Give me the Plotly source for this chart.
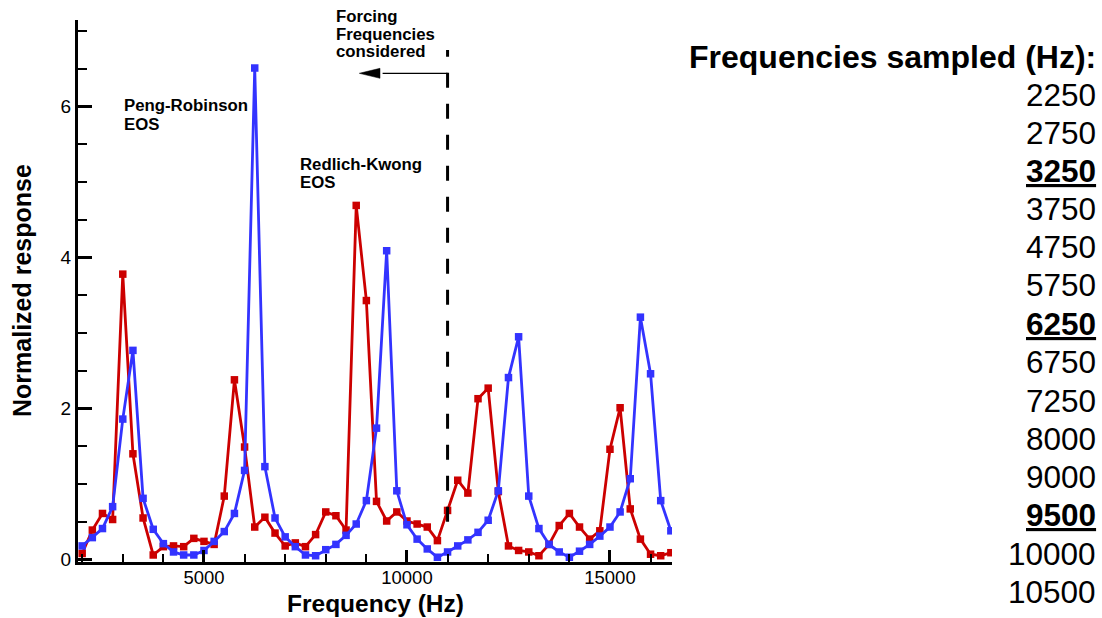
import plotly.graph_objects as go

# ---------------- data ----------------
FREQ_HZ = [2000, 2250, 2500, 2750, 3000, 3250, 3500, 3750, 4000, 4250,
           4500, 4750, 5000, 5250, 5500, 5750, 6000, 6250, 6500, 6750,
           7000, 7250, 7500, 7750, 8000, 8250, 8500, 8750, 9000, 9250,
           9500, 9750, 10000, 10250, 10500, 10750, 11000, 11250, 11500, 11750,
           12000, 12250, 12500, 12750, 13000, 13250, 13500, 13750, 14000, 14250,
           14500, 14750, 15000, 15250, 15500, 15750, 16000, 16250, 16500]

REDLICH_KWONG = [0.08, 0.39, 0.61, 0.53, 3.78, 1.40, 0.55, 0.06, 0.17, 0.18,
                 0.17, 0.28, 0.24, 0.20, 0.84, 2.38, 1.49, 0.43, 0.56, 0.35,
                 0.18, 0.22, 0.17, 0.33, 0.63, 0.58, 0.39, 4.69, 3.43, 0.77,
                 0.51, 0.63, 0.51, 0.47, 0.43, 0.25, 0.65, 1.05, 0.88, 2.13,
                 2.27, 0.90, 0.18, 0.12, 0.10, 0.05, 0.20, 0.45, 0.61, 0.43,
                 0.27, 0.38, 1.46, 2.01, 0.67, 0.27, 0.07, 0.05, 0.09]

PENG_ROBINSON = [0.18, 0.29, 0.41, 0.70, 1.86, 2.77, 0.81, 0.40, 0.21, 0.10,
                 0.06, 0.06, 0.12, 0.24, 0.37, 0.61, 1.18, 6.51, 1.23, 0.55,
                 0.30, 0.17, 0.06, 0.05, 0.13, 0.20, 0.32, 0.47, 0.78, 1.74,
                 4.09, 0.91, 0.46, 0.27, 0.14, 0.03, 0.10, 0.18, 0.26, 0.36,
                 0.52, 0.91, 2.41, 2.95, 0.84, 0.41, 0.20, 0.10, 0.03, 0.11,
                 0.20, 0.31, 0.43, 0.63, 1.07, 3.21, 2.46, 0.78, 0.38]

FORCING_CUTOFF_HZ = 11000

SAMPLED_HZ = ["2250", "2750", "3250", "3750", "4750", "5750", "6250",
              "6750", "7250", "8000", "9000", "9500", "10000", "10500"]
HIGHLIGHTED_HZ = ["3250", "6250", "9500"]

X_RANGE = [1897, 16528]
Y_RANGE = [-0.033, 7.146]

# ---------------- styling ----------------
RED = "#CC0000"
BLUE = "#3333FF"
FONT = "Liberation Sans, Arial, sans-serif"

W, H = 1102, 618
L, R, T, B = 78, 672, 20, 562   # plot area in pixels


def px(xp):
    return (xp - L) / (R - L)


def py(yp):
    return (B - yp) / (B - T)


fig = go.Figure()
fig.add_trace(go.Scatter(
    x=FREQ_HZ, y=REDLICH_KWONG, mode="lines+markers", name="Redlich-Kwong EOS",
    line=dict(color=RED, width=2.8),
    marker=dict(symbol="square", size=7.5, color=RED),
))
fig.add_trace(go.Scatter(
    x=FREQ_HZ, y=PENG_ROBINSON, mode="lines+markers", name="Peng-Robinson EOS",
    line=dict(color=BLUE, width=2.8),
    marker=dict(symbol="square", size=7.5, color=BLUE),
))

axis_common = dict(
    showline=True, linecolor="black", linewidth=3,
    showgrid=False, zeroline=False,
    ticks="inside", tickcolor="black", tickwidth=3,
    tickformat="d",
)

fig.update_layout(
    width=W, height=H,
    margin=dict(l=L, r=W - R, t=T, b=H - B, pad=0),
    paper_bgcolor="white", plot_bgcolor="white",
    showlegend=False,
    xaxis=dict(range=X_RANGE, tick0=0, dtick=5000, ticklen=12,
               ticklabelstandoff=-3,
               tickfont=dict(family=FONT, size=18.5, color="black"),
               minor=dict(tick0=0, dtick=1000, ticks="inside", ticklen=8,
                          tickwidth=1.5, tickcolor="black"),
               **axis_common),
    yaxis=dict(range=Y_RANGE, tick0=0, dtick=2, ticklen=14,
               tickfont=dict(family=FONT, size=19, color="black"),
               minor=dict(tick0=0, dtick=0.5, ticks="inside", ticklen=9,
                          tickwidth=1.5, tickcolor="black"),
               **axis_common),
)

ann = []
# axis titles
ann.append(dict(text="<b>Frequency (Hz)</b>", x=px(375), y=py(603),
                xref="paper", yref="paper", showarrow=False,
                xanchor="center", yanchor="middle",
                font=dict(family=FONT, size=24.5, color="black")))
ann.append(dict(text="<b>Normalized response</b>", x=px(22), y=py(291),
                xref="paper", yref="paper", showarrow=False, textangle=-90,
                xanchor="center", yanchor="middle",
                font=dict(family=FONT, size=25, color="black")))

# in-plot labels (one annotation per line)
def label(text, xleft, ycenter, size=16.8):
    ann.append(dict(text="<b>%s</b>" % text, x=px(xleft - 2), y=py(ycenter),
                    xref="paper", yref="paper", showarrow=False,
                    xanchor="left", yanchor="middle",
                    font=dict(family=FONT, size=size, color="black")))

label("Peng-Robinson", 124, 106)
label("EOS", 124, 124.3)
label("Redlich-Kwong", 299.5, 164.3)
label("EOS", 299.5, 182.7)
label("Forcing", 336, 16.7)
label("Frequencies", 336, 34.5)
label("considered", 336, 52)

# right-hand list
ann.append(dict(text="<b>Frequencies sampled (Hz):</b>", x=px(1098), y=py(68.3 - 11),
                xref="paper", yref="paper", showarrow=False,
                xanchor="right", yanchor="middle",
                font=dict(family=FONT, size=32, color="black")))
baselines = [106, 144.3, 181.7, 220, 258, 296, 335, 373, 411.7, 450, 488.3, 526, 565, 603.3]
for f, bl in zip(SAMPLED_HZ, baselines):
    hl = f in HIGHLIGHTED_HZ
    ann.append(dict(text=("<b>%s</b>" % f) if hl else f, x=px(1098), y=py(bl - 11),
                    xref="paper", yref="paper", showarrow=False,
                    xanchor="right", yanchor="middle",
                    font=dict(family=FONT, size=31.5, color="black",
                              lineposition="under" if hl else "none")))

fig.update_layout(annotations=ann)

# dashed vertical line at forcing cut-off (drawn bottom to top)
fig.add_shape(type="line", xref="x", yref="paper",
              x0=FORCING_CUTOFF_HZ, x1=FORCING_CUTOFF_HZ,
              y0=py(521.7), y1=py(50),
              line=dict(color="black", width=3, dash="15px,16px"))

# arrow pointing left
fig.add_shape(type="line", xref="x", yref="paper",
              x0=FORCING_CUTOFF_HZ, x1=FORCING_CUTOFF_HZ - 1600,
              y0=py(73.3), y1=py(73.3),
              line=dict(color="black", width=1.2))
tip_x, base_x, yc = px(359.3), px(380), py(73.3)
hh = 5.0 / (B - T)
fig.add_shape(type="path", xref="paper", yref="paper",
              path="M %f %f L %f %f L %f %f Z" % (tip_x, yc, base_x, yc + hh, base_x, yc - hh),
              fillcolor="black", line=dict(color="black", width=0.5))

fig.write_html("out.html")
